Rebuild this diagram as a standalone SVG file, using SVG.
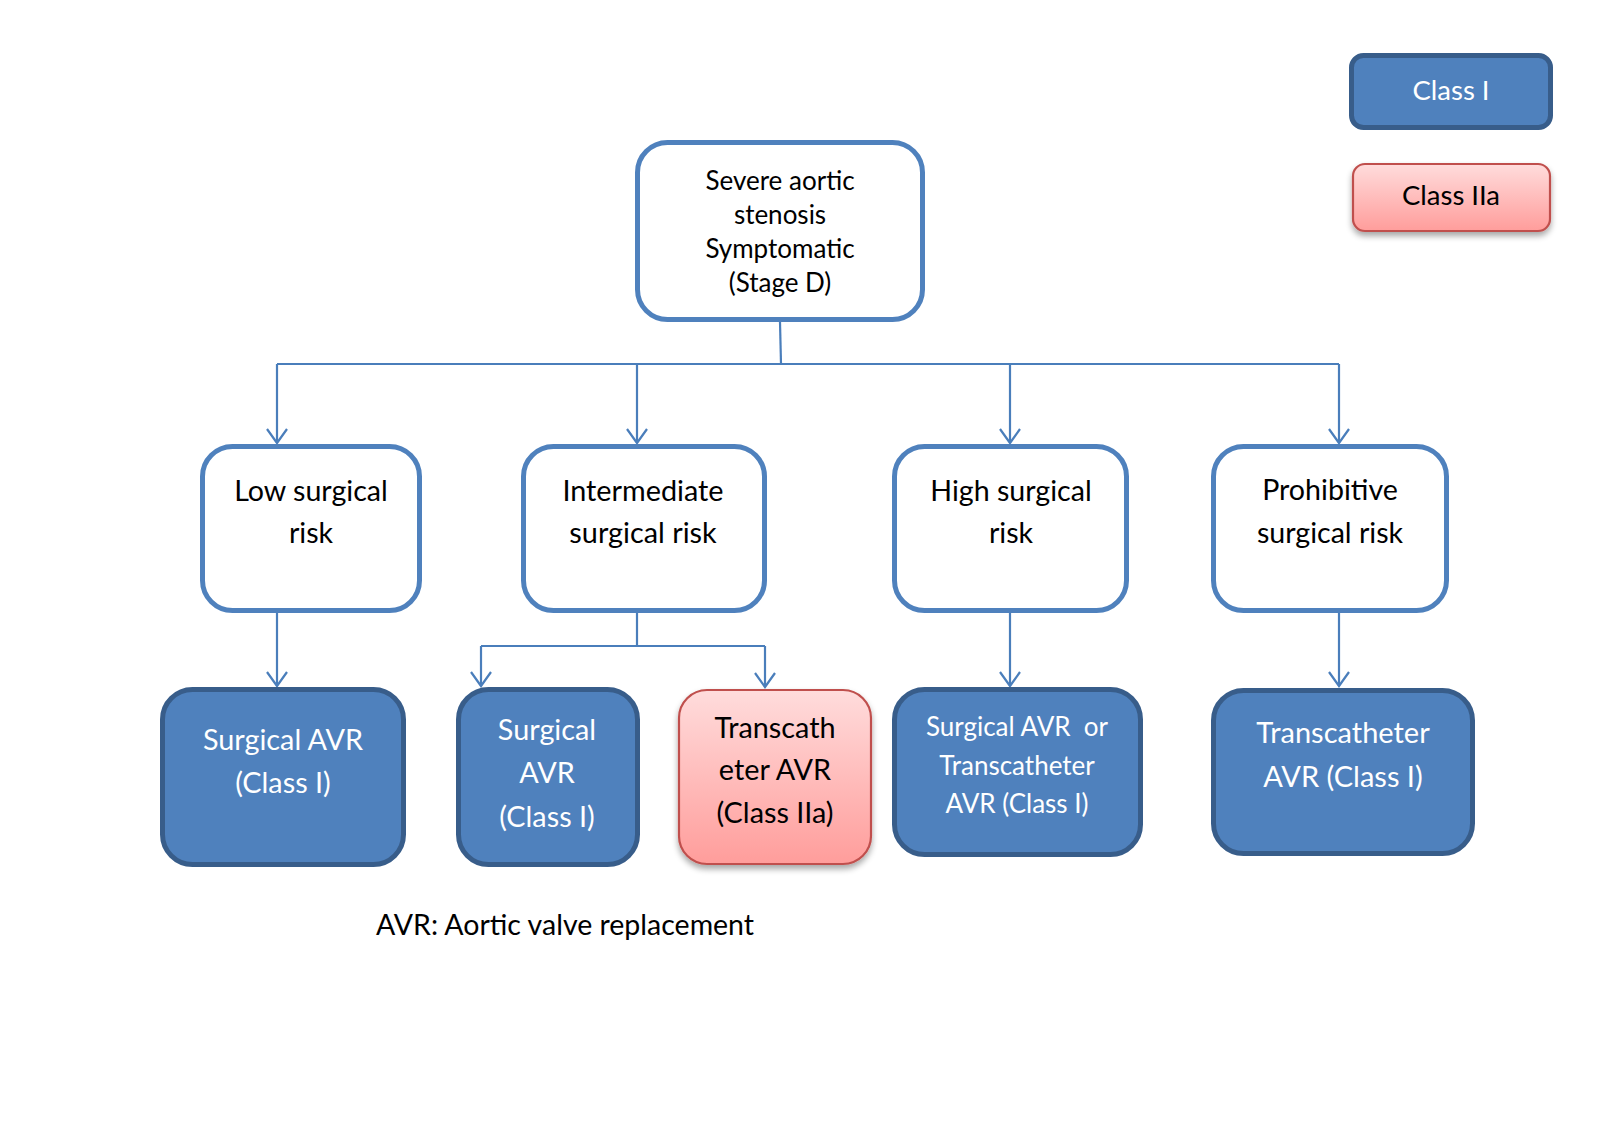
<svg xmlns="http://www.w3.org/2000/svg" width="1603" height="1143" viewBox="0 0 1603 1143">
<defs>
<linearGradient id="pinkGrad" x1="0" y1="0" x2="0" y2="1">
<stop offset="0" stop-color="#ffdcdc"/>
<stop offset="1" stop-color="#ff9d9b"/>
</linearGradient>
<filter id="shadow" x="-10%" y="-10%" width="120%" height="130%">
<feGaussianBlur in="SourceAlpha" stdDeviation="3"/>
<feOffset dx="0" dy="4" result="b"/>
<feComponentTransfer><feFuncA type="linear" slope="0.35"/></feComponentTransfer>
<feMerge><feMergeNode/><feMergeNode in="SourceGraphic"/></feMerge>
</filter>
<marker id="arrow" viewBox="0 0 18 24" refX="16" refY="12" markerWidth="18" markerHeight="24" markerUnits="userSpaceOnUse" orient="auto">
<path d="M2,2 L16,12 L2,22" fill="none" stroke="#4a7ebb" stroke-width="2.2"/>
</marker>
</defs>
<style>
text{font-family:Lato,"Open Sans","Liberation Sans",sans-serif;text-anchor:middle}
.outline{fill:#ffffff;stroke:#4f81bd;stroke-width:5}
.dark{fill:#4f81bd;stroke:#385d8a;stroke-width:5}
.pink{fill:url(#pinkGrad);stroke:#c0504d;stroke-width:2.2}
.t-black{fill:#000000}
.t-white{fill:#ffffff}
.conn{fill:none;stroke:#4a7ebb;stroke-width:2.2}
</style>
<rect width="1603" height="1143" fill="#ffffff"/>

<g id="connectors">
<path class="conn" d="M780,322 L781,364"/>
<path class="conn" d="M277,364 L1339,364"/>
<path class="conn" d="M277,364 L277,443" marker-end="url(#arrow)"/>
<path class="conn" d="M637,364 L637,443" marker-end="url(#arrow)"/>
<path class="conn" d="M1010,364 L1010,443" marker-end="url(#arrow)"/>
<path class="conn" d="M1339,364 L1339,443" marker-end="url(#arrow)"/>
<path class="conn" d="M277,613 L277,686" marker-end="url(#arrow)"/>
<path class="conn" d="M637,613 L637,646"/>
<path class="conn" d="M481,646 L765,646"/>
<path class="conn" d="M481,646 L481,686" marker-end="url(#arrow)"/>
<path class="conn" d="M765,646 L765,687" marker-end="url(#arrow)"/>
<path class="conn" d="M1010,613 L1010,686" marker-end="url(#arrow)"/>
<path class="conn" d="M1339,613 L1339,686" marker-end="url(#arrow)"/>
</g>

<g id="legend-class-i">
<rect class="dark" x="1351.5" y="55.5" width="199" height="72" rx="12"/>
<text class="t-white" x="1451" y="100" font-size="27.5">Class I</text>
</g>
<g id="legend-class-iia">
<rect class="pink" x="1353" y="164" width="197" height="67" rx="12" filter="url(#shadow)"/>
<text class="t-black" x="1451" y="205" font-size="27.5">Class IIa</text>
</g>

<g id="node-root">
<rect class="outline" x="637.5" y="142.5" width="285" height="177" rx="30"/>
<text class="t-black" font-size="26"><tspan x="780" y="190">Severe aortic</tspan><tspan x="780" y="224">stenosis</tspan><tspan x="780" y="258">Symptomatic</tspan><tspan x="780" y="292">(Stage D)</tspan></text>
</g>

<g id="node-low">
<rect class="outline" x="202.5" y="446.5" width="217" height="164" rx="30"/>
<text class="t-black" font-size="28.6"><tspan x="311" y="501">Low surgical</tspan><tspan x="311" y="543">risk</tspan></text>
</g>
<g id="node-intermediate">
<rect class="outline" x="523.5" y="446.5" width="241" height="164" rx="30"/>
<text class="t-black" font-size="28.8"><tspan x="643" y="501">Intermediate</tspan><tspan x="643" y="543">surgical risk</tspan></text>
</g>
<g id="node-high">
<rect class="outline" x="894.5" y="446.5" width="232" height="164" rx="30"/>
<text class="t-black" font-size="28.6"><tspan x="1011" y="501">High surgical</tspan><tspan x="1011" y="543">risk</tspan></text>
</g>
<g id="node-prohibitive">
<rect class="outline" x="1213.5" y="446.5" width="233" height="164" rx="30"/>
<text class="t-black" font-size="28.6"><tspan x="1330" y="500">Prohibitive</tspan><tspan x="1330" y="543">surgical risk</tspan></text>
</g>

<g id="node-low-savr">
<rect class="dark" x="162.5" y="689.5" width="241" height="175" rx="30"/>
<text class="t-white" font-size="28.8"><tspan x="283" y="750">Surgical AVR</tspan><tspan x="283" y="793">(Class I)</tspan></text>
</g>
<g id="node-int-savr">
<rect class="dark" x="458.5" y="689.5" width="179" height="175" rx="30"/>
<text class="t-white" font-size="28.8"><tspan x="547" y="740">Surgical</tspan><tspan x="547" y="783">AVR</tspan><tspan x="547" y="827">(Class I)</tspan></text>
</g>
<g id="node-int-tavr">
<rect class="pink" x="679" y="690" width="192" height="174" rx="28" filter="url(#shadow)"/>
<text class="t-black" font-size="28.8"><tspan x="775" y="738">Transcath</tspan><tspan x="775" y="780">eter AVR</tspan><tspan x="775" y="823">(Class IIa)</tspan></text>
</g>
<g id="node-high-avr">
<rect class="dark" x="894.5" y="689.5" width="246" height="165" rx="30"/>
<text class="t-white" font-size="26"><tspan x="1017" y="736">Surgical AVR&#160; or</tspan><tspan x="1017" y="775">Transcatheter</tspan><tspan x="1017" y="813">AVR (Class I)</tspan></text>
</g>
<g id="node-prohib-tavr">
<rect class="dark" x="1213.5" y="690.5" width="259" height="163" rx="30"/>
<text class="t-white" font-size="29"><tspan x="1343" y="743">Transcatheter</tspan><tspan x="1343" y="787">AVR (Class I)</tspan></text>
</g>

<text id="footnote" class="t-black" x="376" y="935" font-size="28.5" style="text-anchor:start">AVR: Aortic valve replacement</text>
</svg>
